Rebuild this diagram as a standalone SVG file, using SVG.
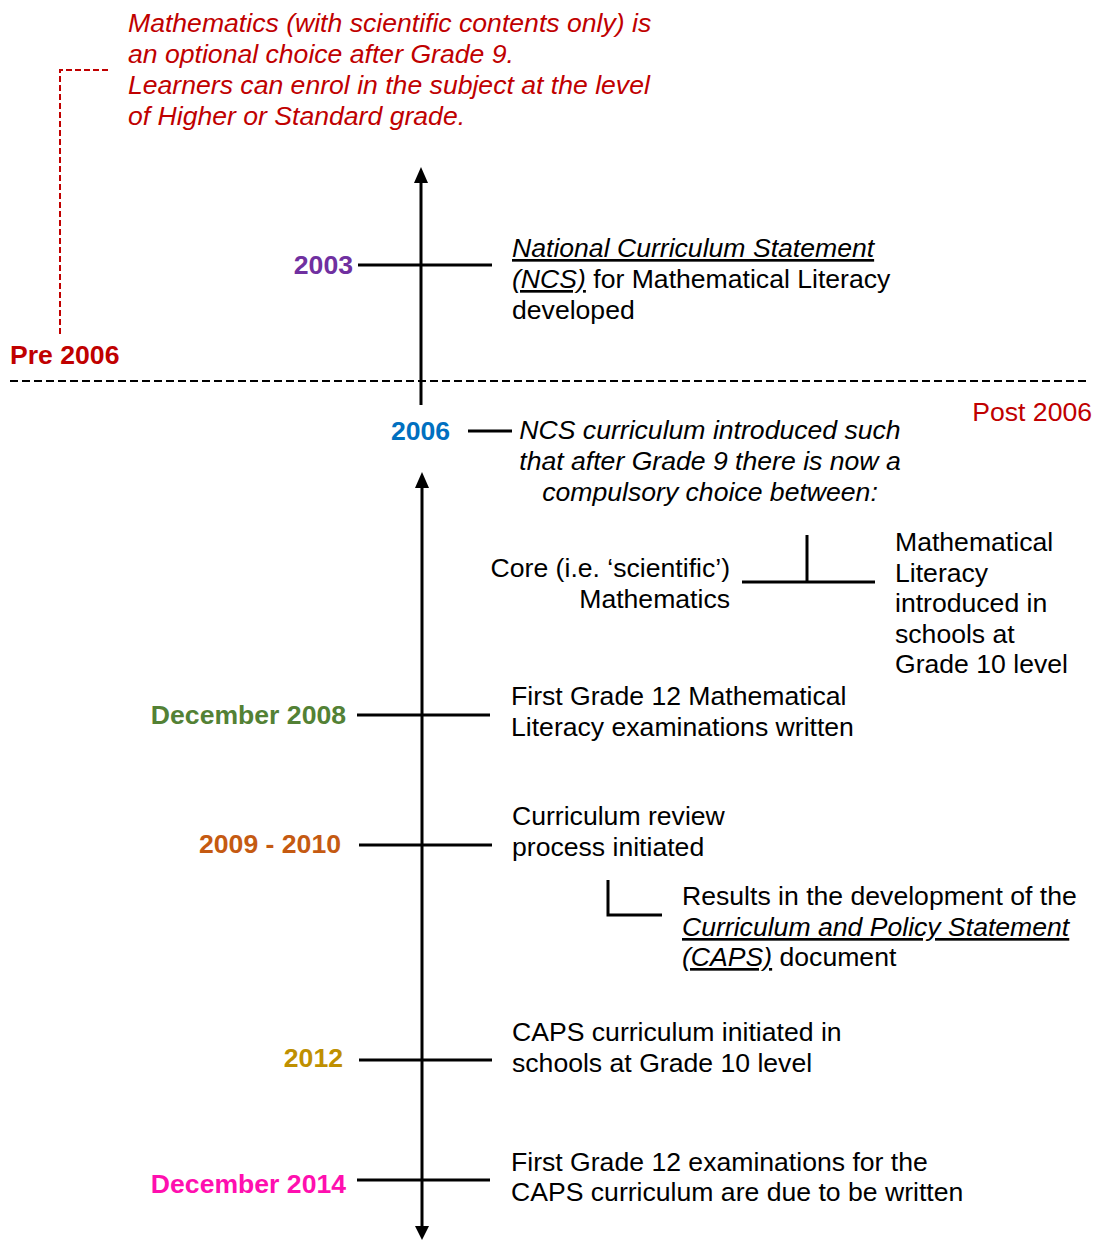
<svg xmlns="http://www.w3.org/2000/svg" width="1099" height="1240" viewBox="0 0 1099 1240">
<defs>
<style>
text{font-family:"Liberation Sans",Arial,sans-serif;font-size:26.6px;fill:#000}
.b{font-weight:bold}
.i{font-style:italic}
.u{text-decoration:underline}
.r{text-anchor:end}
.m{text-anchor:middle}
.red{fill:#C00000}
.ln{stroke:#000;stroke-width:3;fill:none}
</style>
</defs>
<g id="connectors">
<line class="ln" x1="421" y1="180" x2="421" y2="405"/>
<polygon points="421,167 414,183 428,183" fill="#000"/>
<line class="ln" x1="422" y1="486" x2="422" y2="1228"/>
<polygon points="422,472 415,488 429,488" fill="#000"/>
<polygon points="422,1240 415,1226 429,1226" fill="#000"/>
<line x1="10" y1="381" x2="1090" y2="381" stroke="#000" stroke-width="2" stroke-dasharray="8,4"/>
<polyline points="108,70 60,70 60,336" fill="none" stroke="#C00000" stroke-width="2" stroke-dasharray="6,3"/>
<line class="ln" x1="358" y1="265" x2="492" y2="265"/>
<line class="ln" x1="468" y1="431" x2="512" y2="431"/>
<line class="ln" x1="742" y1="582" x2="875" y2="582"/>
<line class="ln" x1="807" y1="535" x2="807" y2="582"/>
<line class="ln" x1="357" y1="715" x2="490" y2="715"/>
<line class="ln" x1="359" y1="845" x2="492" y2="845"/>
<polyline class="ln" points="608,880 608,915 662,915"/>
<line class="ln" x1="359" y1="1060" x2="492" y2="1060"/>
<line class="ln" x1="357" y1="1180" x2="490" y2="1180"/>
</g>
<g id="pre-note">
<text class="i red" x="128" y="32">Mathematics (with scientific contents only) is</text>
<text class="i red" x="128" y="63">an optional choice after Grade 9.</text>
<text class="i red" x="128" y="94">Learners can enrol in the subject at the level</text>
<text class="i red" x="128" y="125">of Higher or Standard grade.</text>
</g>
<g id="pre2006"><text class="b red" x="10" y="364">Pre 2006</text></g>
<g id="post2006"><text class="red r" x="1092" y="421">Post 2006</text></g>
<g id="y2003">
<text class="b r" x="353" y="274" style="fill:#7030A0">2003</text>
<text x="512" y="257"><tspan class="i u">National Curriculum Statement</tspan></text>
<text x="512" y="288"><tspan class="i u">(NCS)</tspan> for Mathematical Literacy</text>
<text x="512" y="319">developed</text>
</g>
<g id="y2006">
<text class="b" x="391" y="440" style="fill:#0070C0">2006</text>
<text class="i m" x="710" y="439">NCS curriculum introduced such</text>
<text class="i m" x="710" y="470">that after Grade 9 there is now a</text>
<text class="i m" x="710" y="501">compulsory choice between:</text>
</g>
<g id="core">
<text class="r" x="730" y="577">Core (i.e. ‘scientific’)</text>
<text class="r" x="730" y="608">Mathematics</text>
</g>
<g id="mathlit">
<text x="895" y="551">Mathematical</text>
<text x="895" y="582">Literacy</text>
<text x="895" y="612">introduced in</text>
<text x="895" y="643">schools at</text>
<text x="895" y="673">Grade 10 level</text>
</g>
<g id="y2008">
<text class="b r" x="346" y="724" style="fill:#538135">December 2008</text>
<text x="511" y="705">First Grade 12 Mathematical</text>
<text x="511" y="736">Literacy examinations written</text>
</g>
<g id="y2009">
<text class="b r" x="341" y="853" style="fill:#C55A11">2009 - 2010</text>
<text x="512" y="825">Curriculum review</text>
<text x="512" y="856">process initiated</text>
</g>
<g id="caps-doc">
<text x="682" y="905">Results in the development of the</text>
<text x="682" y="936"><tspan class="i u">Curriculum and Policy Statement</tspan></text>
<text x="682" y="966"><tspan class="i u">(CAPS)</tspan> document</text>
</g>
<g id="y2012">
<text class="b r" x="343" y="1067" style="fill:#BF9000">2012</text>
<text x="512" y="1041">CAPS curriculum initiated in</text>
<text x="512" y="1072">schools at Grade 10 level</text>
</g>
<g id="y2014">
<text class="b r" x="346" y="1193" style="fill:#FF0FAF">December 2014</text>
<text x="511" y="1171">First Grade 12 examinations for the</text>
<text x="511" y="1201">CAPS curriculum are due to be written</text>
</g>
</svg>
